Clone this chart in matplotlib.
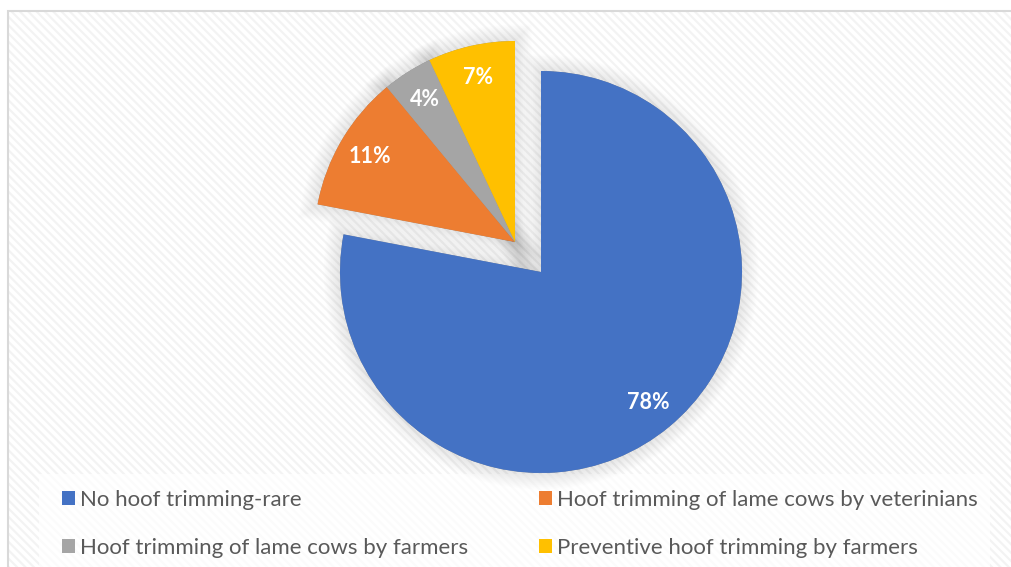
import matplotlib
matplotlib.use('Agg')
import matplotlib.pyplot as plt
import matplotlib.patheffects as pe
from matplotlib.patches import Rectangle, Patch

labels = ['No hoof trimming-rare',
          'Hoof trimming of lame cows by veterinians',
          'Hoof trimming of lame cows by farmers',
          'Preventive hoof trimming by farmers']
shares = [78, 11, 4, 7]
colors = ['#4472c4', '#ed7d31', '#a5a5a5', '#ffc000']

plt.rcParams['font.family'] = ['Lato', 'DejaVu Sans']
plt.rcParams['hatch.linewidth'] = 1.6

W, H = 1011, 567
fig = plt.figure(figsize=(W / 100, H / 100), dpi=100)
ax = fig.add_axes([0, 0, 1, 1])

# chart area: hatched background with thin border
ax.add_patch(Rectangle((8, -10), W + 20, H - 11 + 10, facecolor='white',
                       edgecolor='#f3f3f3', hatch='\\\\\\\\', linewidth=0, zorder=0))
ax.add_patch(Rectangle((8, -10), W + 20, H - 11 + 10, facecolor='none',
                       edgecolor='#d9d9d9', linewidth=1.5, zorder=0.5))
# legend area
ax.add_patch(Rectangle((39, -10), 951, 567 - 474 + 10, facecolor='white',
                       edgecolor='none', alpha=0.7, zorder=0.6))

frac = [s / 100 for s in shares]
R = 201
main_c = (541, H - 272)
grp_c = (515, H - 242)
start_grp = 90 - 360 * frac[0]

glow = [pe.Stroke(linewidth=w, foreground='black', alpha=0.0055) for w in range(24, 0, -1)]

# shadow layer
for vals, c, st in [([frac[0]], main_c, 90), (frac[1:], grp_c, start_grp)]:
    wd = ax.pie(vals, normalize=False, startangle=st, counterclock=False,
                center=c, radius=R, colors=['#999999'] * len(vals), frame=True)[0]
    for w in wd:
        w.set_path_effects(glow + [pe.Normal()])
        w.set_zorder(1)
        w.set_linewidth(0)

pie_kw = dict(normalize=False, counterclock=False, radius=R, frame=True,
              pctdistance=0.84, autopct=lambda p: f'{p:.0f}%',
              wedgeprops=dict(linewidth=0),
              textprops=dict(color='white', fontsize=15.5, fontweight='bold'))
w1, _, t1 = ax.pie([frac[0]], startangle=90, center=main_c, colors=colors[:1], **pie_kw)
w2, _, t2 = ax.pie(frac[1:], startangle=start_grp, center=grp_c, colors=colors[1:], **pie_kw)
for w in w1 + w2:
    w.set_zorder(2)
for t in t1 + t2:
    t.set_zorder(3)

ax.set_xlim(0, W)
ax.set_ylim(0, H)
ax.set_aspect('auto')
ax.axis('off')

# legend fills row by row in the reference
order = [0, 2, 1, 3]
handles = [Patch(facecolor=colors[i], edgecolor='none') for i in order]
leg = ax.legend(handles, [labels[i] for i in order], ncol=2, loc='upper left',
                bbox_to_anchor=(62 / W, 1 - 490 / H),
                frameon=False, fontsize=16, handlelength=0.6, handleheight=0.6,
                handletextpad=0.2, columnspacing=3.2, labelspacing=1.25, borderaxespad=0,
                borderpad=0)
for t in leg.get_texts():
    t.set_color('#595959')

fig.savefig('out.png', dpi=100)
